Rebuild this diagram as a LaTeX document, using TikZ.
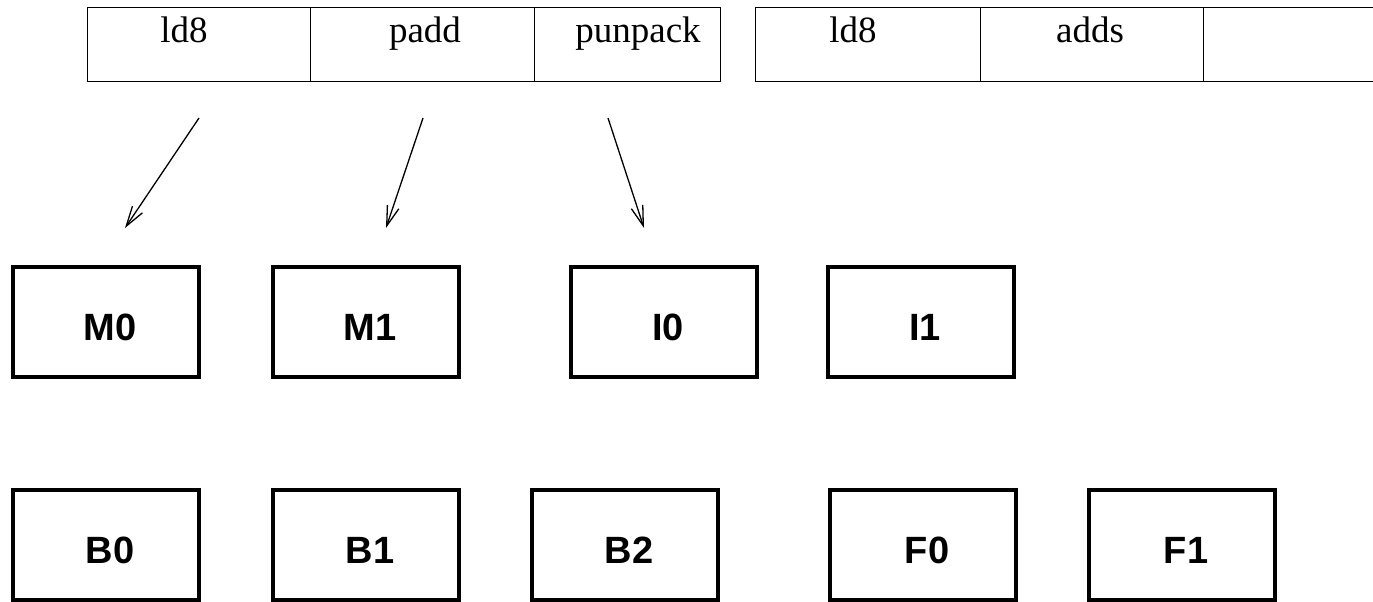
\documentclass[tikz,border=0pt]{standalone}
\usepackage{fontspec}
\setmainfont{Liberation Serif}
\newfontfamily\unitfont{Liberation Sans}
\usetikzlibrary{arrows.meta}
\begin{document}
\begin{tikzpicture}[x=1pt,y=-1pt,
  slot/.style={draw, line width=1.4pt, minimum height=74pt, inner sep=0pt, anchor=north west},
  optext/.style={font=\fontsize{37}{40}\selectfont, anchor=base, inner sep=0pt},
  unit/.style={draw, line width=4pt, minimum width=186pt, minimum height=110pt, inner sep=0pt},
  unitlabel/.style={font=\unitfont\bfseries\fontsize{38}{40}\selectfont, inner sep=0pt},
  link/.style={line width=1.3pt, -{Straight Barb[length=20pt, width=12pt, line width=1.3pt]}}
]
\useasboundingbox (0,0) rectangle (1373,602);
\clip (0,0) rectangle (1373,602);

% first instruction bundle
\node[slot, minimum width=223pt] (s1) at (87,7) {};
\node[slot, minimum width=224pt] (s2) at (310,7) {};
\node[slot, minimum width=186pt] (s3) at (534,7) {};
\node[optext] (t1) at (184,43) {ld8};
\node[optext] (t2) at (425,43) {padd};
\node[optext] (t3) at (638,43) {punpack};

% second instruction bundle
\node[slot, minimum width=225pt] (s4) at (755,7) {};
\node[slot, minimum width=223pt] (s5) at (980,7) {};
\node[slot, minimum width=200pt] (s6) at (1203,7) {};
\node[optext] (t4) at (853,43) {ld8};
\node[optext] (t5) at (1090,43) {adds};

% dispatch arrows
\coordinate (a1s) at (199,118); \coordinate (a1e) at (125,228);
\coordinate (a2s) at (423,118); \coordinate (a2e) at (386,228);
\coordinate (a3s) at (608,118); \coordinate (a3e) at (644,228);
\draw[link] (a1s) -- (a1e);
\draw[link] (a2s) -- (a2e);
\draw[link] (a3s) -- (a3e);

% execution units, first row
\node[unit] (M0) at (106,322) {};
\node[unit] (M1) at (366,322) {};
\node[unit] (I0) at (664,322) {};
\node[unit] (I1) at (921,322) {};
% execution units, second row
\node[unit] (B0) at (106,545) {};
\node[unit] (B1) at (366,545) {};
\node[unit] (B2) at (625,545) {};
\node[unit] (F0) at (923,545) {};
\node[unit] (F1) at (1182,545) {};

\foreach \u in {M0,M1,I0,I1,B0,B1,B2,F0,F1}
  \node[unitlabel] (\u-text) at ([shift={(4,5.5)}]\u.center) {\u};
\end{tikzpicture}
\end{document}
